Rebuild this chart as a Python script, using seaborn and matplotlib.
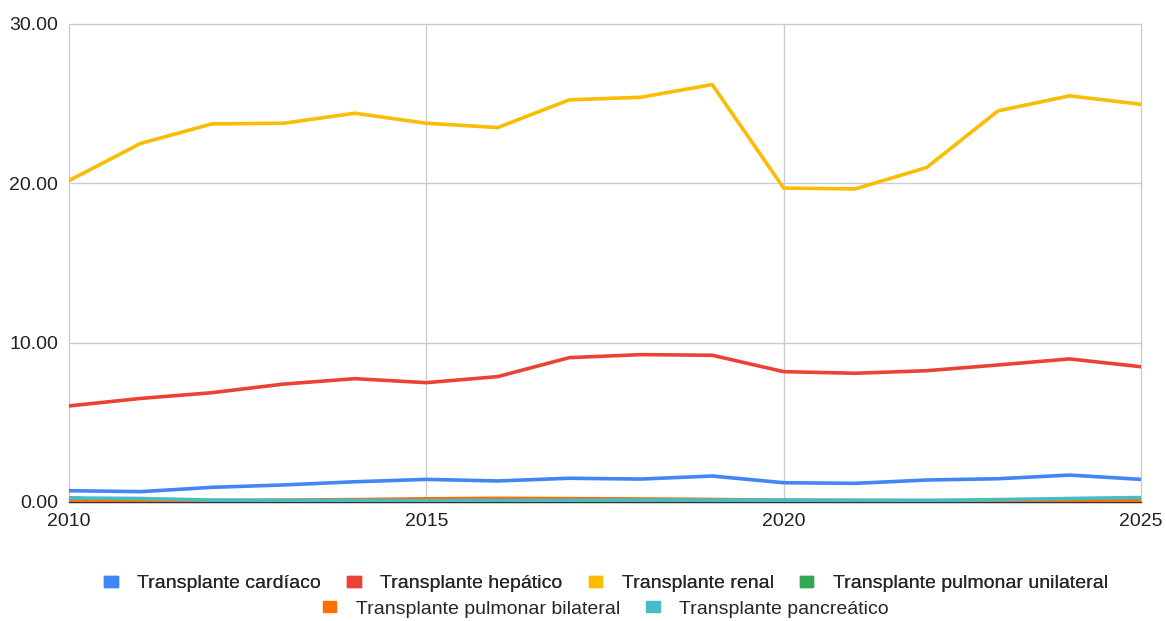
import matplotlib
matplotlib.use("Agg")
import matplotlib.pyplot as plt
import seaborn as sns
import pandas as pd
from matplotlib.patches import Patch

years = list(range(2010, 2026))
cardiaco = [0.71, 0.65, 0.92, 1.07, 1.27, 1.42, 1.32, 1.49, 1.44, 1.63, 1.21, 1.17, 1.38, 1.46, 1.69, 1.42]
hepatico = [6.03, 6.50, 6.86, 7.40, 7.74, 7.49, 7.87, 9.06, 9.25, 9.21, 8.18, 8.08, 8.24, 8.60, 8.98, 8.49]
renal = [20.17, 22.50, 23.73, 23.77, 24.40, 23.77, 23.50, 25.24, 25.40, 26.20, 19.70, 19.65, 20.99, 24.55, 25.49, 24.96]
pulm_uni = [0.25, 0.06, 0.04, 0.04, 0.04, 0.04, 0.04, 0.03, 0.03, 0.03, 0.04, 0.04, 0.03, 0.04, 0.04, 0.05]
pulm_bi = [0.06, 0.06, 0.09, 0.12, 0.15, 0.20, 0.23, 0.21, 0.19, 0.16, 0.11, 0.10, 0.09, 0.07, 0.06, 0.10]
pancreatico = [0.25, 0.22, 0.12, 0.10, 0.10, 0.08, 0.10, 0.10, 0.12, 0.12, 0.12, 0.10, 0.10, 0.15, 0.22, 0.28]

series_names = ["Transplante cardíaco", "Transplante hepático", "Transplante renal",
                "Transplante pulmonar unilateral", "Transplante pulmonar bilateral",
                "Transplante pancreático"]
series_values = [cardiaco, hepatico, renal, pulm_uni, pulm_bi, pancreatico]
colors = ["#4285F4", "#EA4335", "#FBBC04", "#34A853", "#FF6D01", "#46BDC6"]

x_ticks = [2010, 2015, 2020, 2025]
y_ticks = [0, 10, 20, 30]
y_tick_labels = ["0.00", "10.00", "20.00", "30.00"]

rows = []
for name, vals in zip(series_names, series_values):
    for yr, v in zip(years, vals):
        rows.append({"Año": yr, "Valor": v, "Serie": name})
df = pd.DataFrame(rows)

sns.set_theme(style="white")
plt.rcParams["font.family"] = ["Liberation Sans", "DejaVu Sans"]

fig = plt.figure(figsize=(11.66, 6.21), dpi=100)
ax = fig.add_axes([69/1166, 1 - 502/621, (1141 - 69)/1166, (502 - 24)/621])

sns.lineplot(data=df, x="Año", y="Valor", hue="Serie", hue_order=series_names,
             palette=colors, linewidth=2.6, ax=ax, legend=False, zorder=3)

ax.set_xlim(2010, 2025)
ax.set_ylim(0, 30)
ax.set_xticks(x_ticks)
ax.set_xticklabels([str(t) for t in x_ticks])
ax.set_yticks(y_ticks)
ax.set_yticklabels(y_tick_labels)
ax.set_xlabel("")
ax.set_ylabel("")
ax.grid(True, color="#cccccc", linewidth=1.0, zorder=0)
for gl in ax.get_xgridlines() + ax.get_ygridlines():
    gl.set_clip_on(False)
ax.set_axisbelow(True)
for s in ["top", "right", "left"]:
    ax.spines[s].set_visible(False)
ax.spines["bottom"].set_color("#333333")
ax.spines["bottom"].set_linewidth(1.0)
ax.spines["bottom"].set_zorder(2)
ax.tick_params(axis="both", length=0, labelsize=14, colors="#222222")
ax.tick_params(axis="y", pad=8)
ax.tick_params(axis="x", pad=8)

handles = [Patch(facecolor=c, edgecolor=c) for c in colors]
kw = dict(frameon=False, fontsize=14, handlelength=0.7, handleheight=0.45,
          handletextpad=1.0, columnspacing=1.35)
cx = 0.5 + 23/1166
leg1 = fig.legend(handles[:4], series_names[:4], loc="center", bbox_to_anchor=(cx, 1 - 584/621),
                  ncol=4, **kw)
leg2 = fig.legend(handles[4:], series_names[4:], loc="center", bbox_to_anchor=(cx, 1 - 609/621),
                  ncol=2, **kw)
fig.add_artist(leg1)

fig.savefig("out.png", dpi=100)
